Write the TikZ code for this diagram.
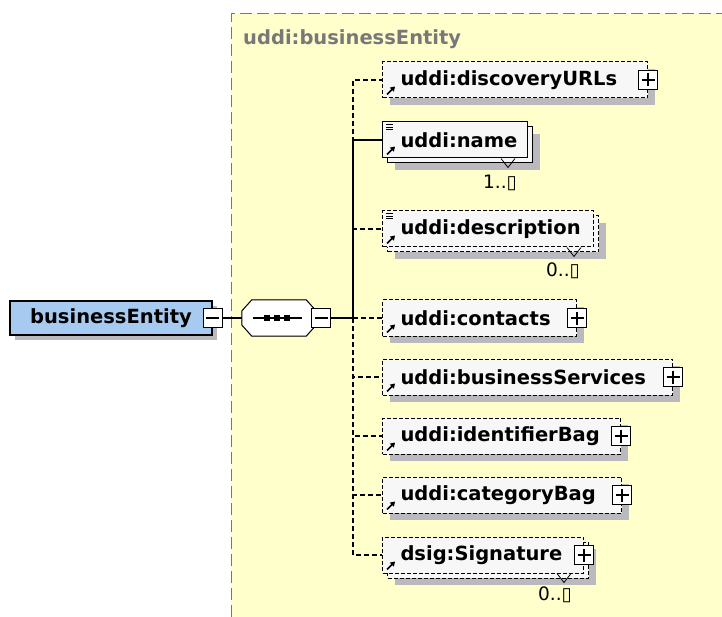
\documentclass[tikz,border=0pt]{standalone}
\usepackage{fontspec}
\setmainfont{DejaVu Sans}
\usetikzlibrary{shadows,arrows.meta,calc}
\hyphenpenalty=10000
\exhyphenpenalty=10000

\definecolor{panelyellow}{RGB}{255,255,204}
\definecolor{panelline}{RGB}{120,120,120}
\definecolor{typeblue}{RGB}{166,202,240}
\definecolor{boxfill}{RGB}{247,247,247}
\definecolor{shade}{RGB}{186,186,190}
\definecolor{hdrgray}{RGB}{120,120,120}

% small reference arrow in the lower left corner of an element box
\newcommand\xrefmark[1]{%
  \draw[line width=1.5pt,-{Triangle[length=4.5pt,width=5.5pt]}]
    ($(#1.south west)+(5,-4)$) -- ++(8,-8);}
% "simple content" mark in the upper left corner
\newcommand\xsimplemark[1]{%
  \foreach \yy in {3,5.5,8}
    \draw[line width=0.9pt] ($(#1.north west)+(4,\yy)$) -- ++(7,0);}
% chevron under an element that may repeat
\newcommand\xmaxmark[1]{%
  \draw[line width=0.8pt] ($(#1.south east)+(-27,0)$) -- ++(7,9) -- ++(7,-9);}
% octagonal outline of a sequence compositor, drawn round node #1
\newcommand\xoctpath[1]{%
  ($(#1.west)+(0,-7)$) -- ($(#1.north west)+(10,0)$) -- ($(#1.north east)+(-10,0)$)
  -- ($(#1.east)+(0,-7)$) -- ($(#1.east)+(0,7)$) -- ($(#1.south east)+(-10,0)$)
  -- ($(#1.south west)+(10,0)$) -- ($(#1.west)+(0,7)$) -- cycle}

\begin{document}
\begin{tikzpicture}[x=1pt,y=-1pt,
  lbl/.style={font=\bfseries\fontsize{19.5}{23}\selectfont},
  card/.style={font=\fontsize{18.5}{20}\selectfont, inner sep=0pt},
  conn/.style={line width=1.2pt},
  optconn/.style={conn, dash pattern=on 5pt off 3pt},
  single/.style={general shadow={fill=shade, shadow xshift=7pt, shadow yshift=-7pt}},
  multi/.style={general shadow={fill=shade, shadow xshift=12pt, shadow yshift=-12pt},
                copy shadow={draw=black, fill=boxfill, shadow xshift=5pt, shadow yshift=-5pt}},
  elem/.style={draw, line width=1pt, fill=boxfill, anchor=west,
    minimum height=36pt, inner xsep=18pt, inner ysep=0pt,
    text width=#1, align=left, lbl},
  optelem/.style={elem=#1, dash pattern=on 4pt off 2pt},
  typebox/.style={draw, line width=1.2pt, fill=typeblue, minimum width=202pt,
    minimum height=34pt, inner sep=0pt, lbl,
    general shadow={fill=shade, shadow xshift=5pt, shadow yshift=-5pt}},
  pmbox/.style={draw, fill=white, line width=1pt, minimum size=19pt, inner sep=0pt},
  collapse/.style={pmbox, path picture={
    \draw[line width=1.1pt] ($(path picture bounding box.west)+(3,0)$) -- ($(path picture bounding box.east)+(-3,0)$);}},
  expand/.style={pmbox, path picture={
    \draw[line width=1.1pt] ($(path picture bounding box.west)+(3,0)$) -- ($(path picture bounding box.east)+(-3,0)$)
      ($(path picture bounding box.north)+(0,3)$) -- ($(path picture bounding box.south)+(0,-3)$);}},
  seqarea/.style={minimum width=74pt, minimum height=36pt, inner sep=0pt}
]
\clip (0,0) rectangle (722,617);
\fill[white] (0,0) rectangle (722,617);

% complex type panel
\fill[panelyellow] (231,14) rectangle (722,617);
\draw[panelline, line width=1pt, dash pattern=on 12pt off 5pt] (231,617) -- (231,14) -- (722,14);
\node[lbl, text=hdrgray, anchor=base west, inner sep=0pt] (hdr) at (243,45) {uddi:businessEntity};

% root element and its sequence compositor
\node[typebox] (be) at (111,318) {businessEntity};
\node[collapse] (beX) at (be.east) {};
\node[seqarea] (seq) at (279,318) {};
\fill[shade, shift={(5,5)}] \xoctpath{seq};
\draw[line width=1pt, fill=white] \xoctpath{seq};
\draw[line width=1.2pt] ($(seq.center)+(-26,0)$) -- ($(seq.center)+(23,0)$);
\foreach \dx in {-12,-2,8}
  \fill ($(seq.center)+(\dx,0)+(-2.6,-2.6)$) rectangle ++(5.2,5.2);
\node[collapse] (seqX) at (321,318) {};
\coordinate (j) at (353,318);

% child elements
\node[optelem=229pt, single] (durl) at (382,80) {uddi:discoveryURLs};
\node[elem=109pt, multi] (name) at (382,140) {uddi:name};
\node[optelem=175pt, multi] (desc) at (382,229) {uddi:description};
\node[optelem=158pt, single] (cont) at (382,318) {uddi:contacts};
\node[optelem=254pt, single] (bsvc) at (382,377) {uddi:businessServices};
\node[optelem=202pt, single] (idb) at (382,436) {uddi:identifierBag};
\node[optelem=203pt, single] (catb) at (382,495) {uddi:categoryBag};
\node[optelem=165pt, multi] (sig) at (382,555) {dsig:Signature};

\foreach \n in {durl,cont,bsvc,idb,catb,sig}
  \node[expand] (\n-x) at (\n.east) {};

% occurrence labels
\node[card] (nameC) at (500,183) {1..▯};
\node[card] (descC) at (563,271) {0..▯};
\node[card] (sigC) at (555,595) {0..▯};

% connectors
\draw[conn] (beX.east) -- (seq.west);
\draw[conn] (seqX.east) -- (j);
\foreach \n in {durl,desc,cont,bsvc,idb,catb,sig}
  \draw[optconn] (j) |- (\n.west);
\draw[conn] (j) |- (name.west);

% element marks
\foreach \n in {durl,name,desc,cont,bsvc,idb,catb,sig} {\xrefmark{\n}}
\xsimplemark{name}
\xsimplemark{desc}
\xmaxmark{name}
\xmaxmark{desc}
\xmaxmark{sig}
\end{tikzpicture}
\end{document}
